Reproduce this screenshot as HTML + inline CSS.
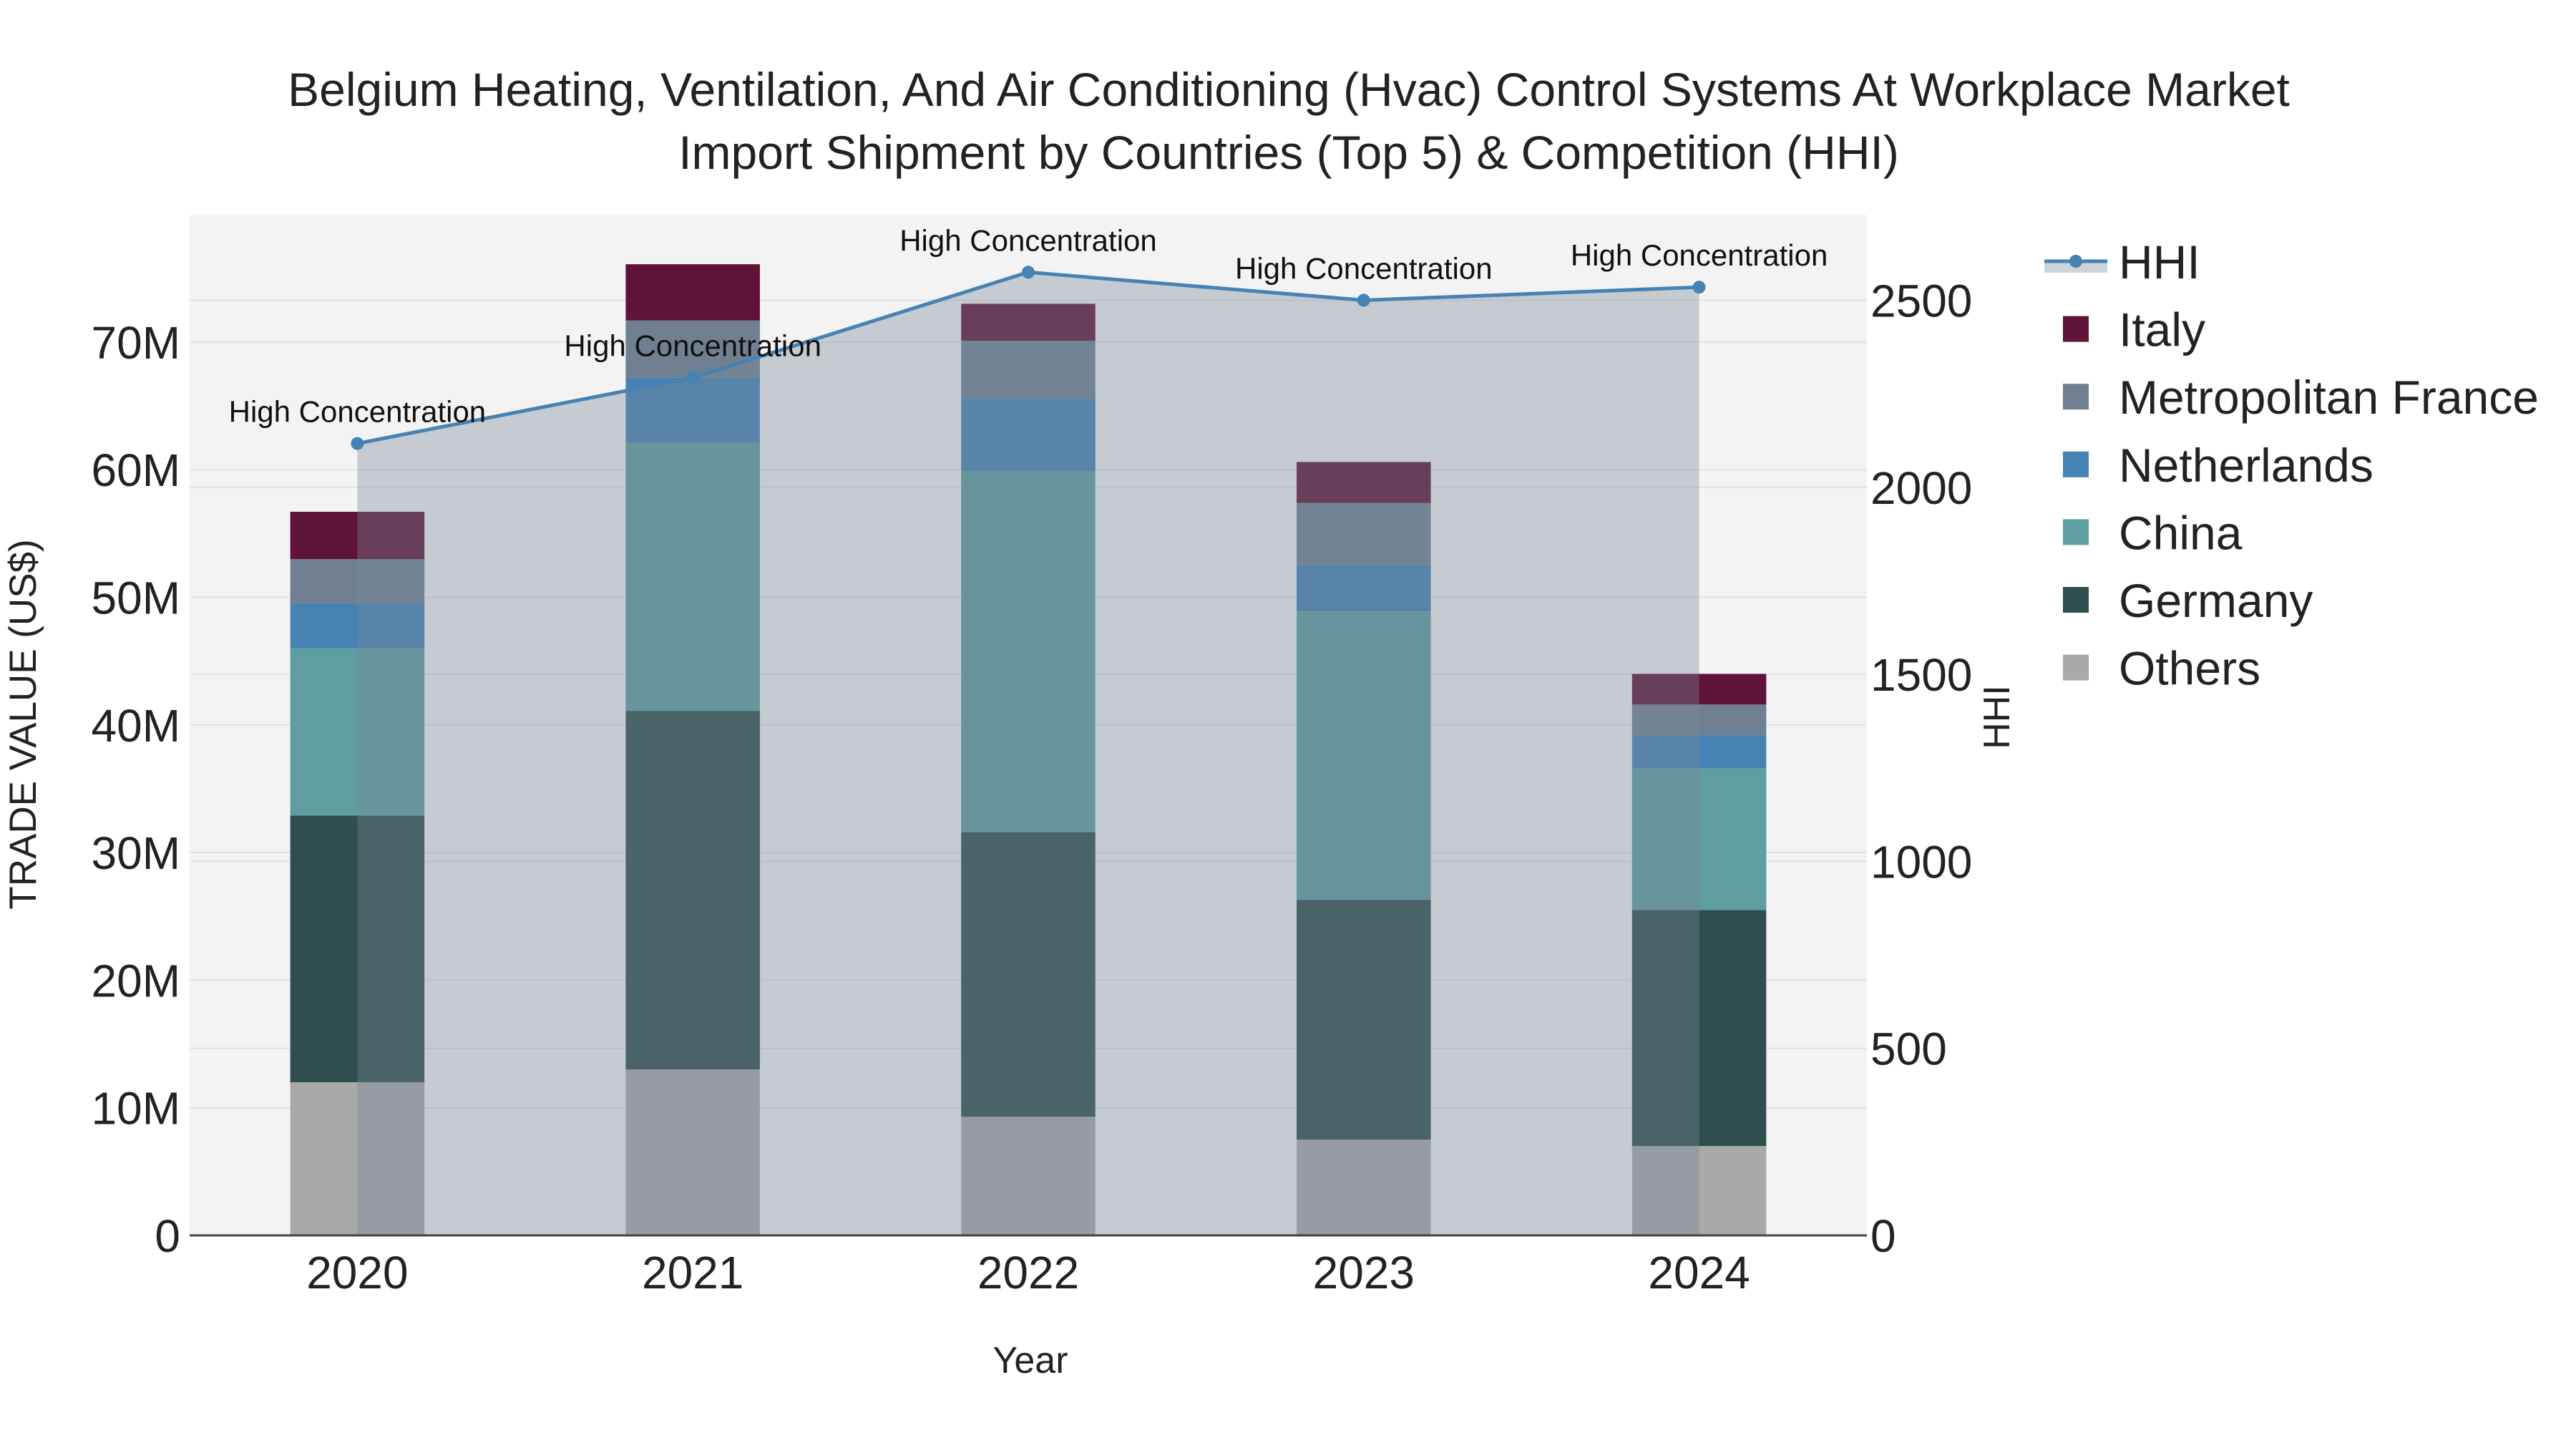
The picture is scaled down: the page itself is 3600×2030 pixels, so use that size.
<!DOCTYPE html>
<html><head><meta charset="utf-8"><style>
html,body{margin:0;padding:0;background:#fff}
svg text{font-family:"Liberation Sans",Arial,sans-serif}
</style></head><body>
<svg id="chart" width="3600" height="2025" viewBox="0 0 3600 2025" xmlns="http://www.w3.org/2000/svg">
<rect x="265" y="300" width="2344" height="1426" fill="#f3f3f3"/>
<g id="grid"></g>
<g id="bars"></g>
<g id="area"></g>
<g id="line"></g>
<g id="axes"></g>
<text x="1801" y="148" font-size="66" text-anchor="middle" fill="#222">Belgium Heating, Ventilation, And Air Conditioning (Hvac) Control Systems At Workplace Market</text>
<text x="1801" y="236" font-size="66" text-anchor="middle" fill="#222">Import Shipment by Countries (Top 5) &amp; Competition (HHI)</text>
<text transform="translate(50,1012) rotate(-90)" font-size="53" text-anchor="middle" fill="#222">TRADE VALUE (US$)</text>
<text x="1440" y="1918" font-size="52" text-anchor="middle" fill="#222">Year</text>
<text transform="translate(2808,1002) rotate(-90)" font-size="52" text-anchor="middle" fill="#222">HHI</text>
<g id="legend"></g>
</svg>
<script>
const years = ["2020","2021","2022","2023","2024"];
const seriesNames = ["Others","Germany","China","Netherlands","Metropolitan France","Italy"];
const others = [12.0,13.0,9.3,7.5,7.0];
const germany = [20.9,28.1,22.3,18.8,18.5];
const china = [13.1,21.0,28.3,22.6,11.1];
const netherlands = [3.5,5.1,5.7,3.6,2.6];
const france = [3.5,4.5,4.5,4.9,2.4];
const italy = [3.7,4.4,2.9,3.2,2.4];
const hhi = [2117,2293,2575,2500,2535];
const hhiLabels = ["High Concentration","High Concentration","High Concentration","High Concentration","High Concentration"];
const leftTicks = [0,10,20,30,40,50,60,70];
const leftTickLabels = ["0","10M","20M","30M","40M","50M","60M","70M"];
const rightTicks = [0,500,1000,1500,2000,2500];
const colors = ["#a9a9a9","#2f4f4f","#5f9ea0","#4682b4","#708090","#5f1336"];

const NS="http://www.w3.org/2000/svg";
const X0=265,W=2344,Y0=1726;
const xc=i=>X0+(i+0.5)*W/years.length;
const yL=v=>Y0-v*17.83;
const yR=h=>Y0-h*0.5226;
function mk(tag,parent,attrs){const e=document.createElementNS(NS,tag);for(const k in attrs)e.setAttribute(k,attrs[k]);document.getElementById(parent).appendChild(e);return e;}

leftTicks.forEach((t,i)=>{
  const g=mk('line','grid',{x1:X0,x2:X0+W,y1:yL(t),y2:yL(t),stroke:'#e2e2e2','stroke-width':2});
  
  
  const l=mk('text','axes',{x:252,y:yL(t)+23,'font-size':64,'text-anchor':'end',fill:'#222'});
  l.textContent=leftTickLabels[i];
  
  
});
rightTicks.forEach(t=>{
  const g=mk('line','grid',{x1:X0,x2:X0+W,y1:yR(t),y2:yR(t),stroke:'#e2e2e2','stroke-width':2});
  
  
  const l=mk('text','axes',{x:2614,y:yR(t)+23,'font-size':64,fill:'#222'});
  l.textContent=String(t);
  
  
});
years.forEach((y,i)=>{
  const l=mk('text','axes',{x:xc(i),y:1800,'font-size':64,'text-anchor':'middle',fill:'#222'});
  l.textContent=y;
  
  
});
const ax=mk('line','axes',{x1:X0,x2:X0+W,y1:Y0,y2:Y0,stroke:'#444','stroke-width':3});



const series=[others,germany,china,netherlands,france,italy];
const bw=0.4*W/years.length;
years.forEach((y,i)=>{
  let base=0;
  series.forEach((s,k)=>{
    const top=base+s[i];
    const r=mk('rect','bars',{x:xc(i)-bw/2,y:yL(top),width:bw,height:yL(base)-yL(top),fill:colors[k]});
    
    
    base=top;
  });
});

let pts=hhi.map((h,i)=>xc(i)+','+yR(h)).join(' ');
const area=mk('polygon','area',{points:xc(0)+','+Y0+' '+pts+' '+xc(hhi.length-1)+','+Y0,fill:'rgba(119,136,153,0.37)'});


const pl=mk('polyline','line',{points:pts,fill:'none',stroke:'#4682b4','stroke-width':5});


hhi.forEach((h,i)=>{
  const c=mk('circle','line',{cx:xc(i),cy:yR(h),r:9,fill:'#4682b4'});
  
  
  const t=mk('text','line',{x:xc(i),y:yR(h)-30,'font-size':42,'text-anchor':'middle',fill:'#111'});
  t.textContent=hhiLabels[i];
  
  
});

const ly0=365,lstep=94.6;
const lgL=mk('rect','legend',{x:2857,y:ly0+2,width:88,height:14,fill:'rgba(119,136,153,0.37)'});


const lgl=mk('line','legend',{x1:2857,x2:2945,y1:ly0,y2:ly0,stroke:'#4682b4','stroke-width':5});


const lgc=mk('circle','legend',{cx:2901,cy:ly0,r:9,fill:'#4682b4'});


const lgt=mk('text','legend',{x:2961,y:ly0+24,'font-size':66,fill:'#222'});
lgt.textContent='HHI';


for(let j=0;j<6;j++){
  const k=5-j, y=ly0+lstep*(j+1);
  const s=mk('rect','legend',{x:2883,y:y-18,width:36,height:36,fill:colors[k]});
  
  
  const t=mk('text','legend',{x:2961,y:y+24,'font-size':66,fill:'#222'});
  t.textContent=seriesNames[k];
  
  
}
</script>
</body></html>
